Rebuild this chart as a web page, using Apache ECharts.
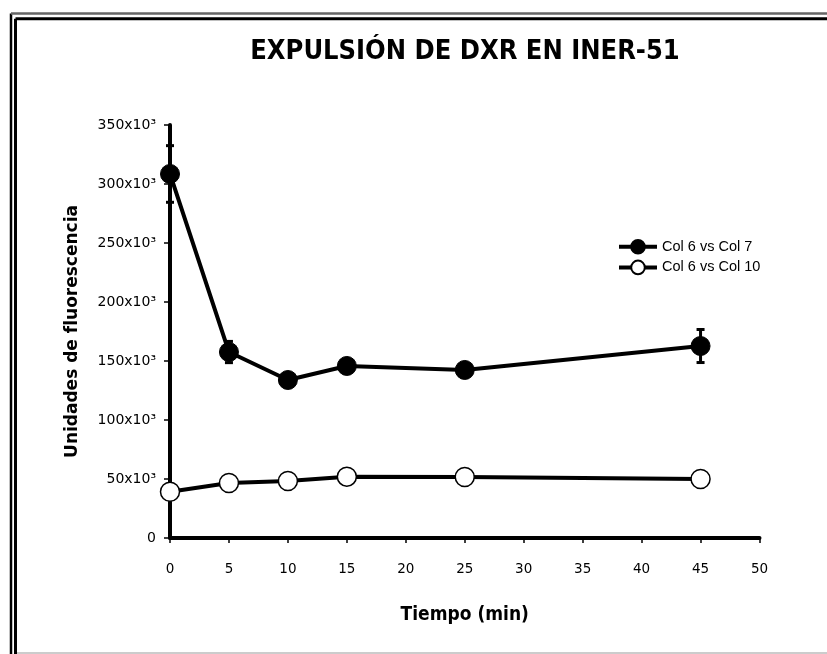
<!DOCTYPE html>
<html lang="es">
<head>
<meta charset="UTF-8">
<title>Expulsión de DXR en INER-51</title>
<script src="https://cdn.jsdelivr.net/npm/echarts@6/dist/echarts.min.js"></script>
<style>
  body { margin: 0; background: #fff; }
</style>
</head>
<body>
<div id="main" style="width: 827px;height:654px;"></div>
<script type="text/javascript">
// tiempos (min)
const tiempos = [0, 5, 10, 15, 25, 45];
// Col 6 vs Col 7 (media y error)
const col7 = [308500, 157600, 133900, 145800, 142400, 162700];
const col7Err = [24000, 9000, 0, 0, 0, 14000];
// Col 6 vs Col 10
const col10 = [39200, 46600, 48300, 52000, 51700, 50000];

const axisFont = 'Verdana, "DejaVu Sans", sans-serif';
const condFont = '"DejaVu Sans Condensed", "DejaVu Sans", sans-serif';

let myChart = echarts.init(document.getElementById('main'));

let options = {
  animation: false,
  backgroundColor: '#fff',
  title: {
    text: 'EXPULSIÓN DE DXR EN INER-51',
    left: 460,
    textAlign: 'center',
    top: 33,
    textStyle: { fontFamily: condFont, fontWeight: 'bold', fontSize: 27, color: '#000' }
  },
  legend: {
    orient: 'vertical',
    left: 612,
    top: 234,
    itemWidth: 38,
    itemHeight: 17,
    itemGap: 5,
    lineStyle: { width: 4 },
    textStyle: { fontFamily: '"Liberation Sans", Arial, sans-serif', fontSize: 14.5, color: '#000' },
    data: ['Col 6 vs Col 7', 'Col 6 vs Col 10']
  },
  grid: { left: 170, right: 67.5, top: 125, bottom: 116 },
  xAxis: {
    type: 'value',
    min: 0, max: 50, interval: 5,
    name: 'Tiempo (min)',
    nameLocation: 'middle',
    nameGap: 68,
    nameTextStyle: { fontFamily: condFont, fontWeight: 'bold', fontSize: 19, color: '#000' },
    axisLine: { onZero: false, lineStyle: { color: '#000', width: 4 } },
    axisTick: { lineStyle: { color: '#000', width: 1.5 }, length: 5 },
    axisLabel: { fontFamily: axisFont, fontSize: 13.5, color: '#000', margin: 24 },
    splitLine: { show: false }
  },
  yAxis: {
    type: 'value',
    min: 0, max: 350000, interval: 50000,
    name: 'Unidades de fluorescencia',
    nameLocation: 'middle',
    nameGap: 89,
    nameTextStyle: { fontFamily: axisFont, fontWeight: 'bold', fontSize: 17, color: '#000' },
    axisLine: { show: true, lineStyle: { color: '#000', width: 4 } },
    axisTick: { show: true, lineStyle: { color: '#000', width: 1.5 }, length: 6 },
    axisLabel: {
      fontFamily: axisFont, fontSize: 14, color: '#000', margin: 14,
      formatter: function (v) { return v === 0 ? '0' : (v / 1000) + 'x10³'; }
    },
    splitLine: { show: false }
  },
  series: [
    {
      name: 'Col 6 vs Col 7',
      type: 'line',
      data: tiempos.map((t, i) => [t, col7[i]]),
      symbol: 'circle',
      symbolSize: 19,
      lineStyle: { color: '#000', width: 4 },
      itemStyle: { color: '#000', borderColor: '#000', borderWidth: 1 },
      z: 3
    },
    {
      name: 'Col 6 vs Col 10',
      type: 'line',
      data: tiempos.map((t, i) => [t, col10[i]]),
      symbol: 'circle',
      symbolSize: 19,
      lineStyle: { color: '#000', width: 4 },
      itemStyle: { color: '#fff', borderColor: '#000', borderWidth: 1.5 },
      z: 3
    },
    {
      type: 'custom',
      name: 'err',
      data: tiempos.map((t, i) => [t, col7[i] - col7Err[i], col7[i] + col7Err[i]]).filter(d => d[2] > d[1]),
      renderItem: function (params, api) {
        const lo = api.coord([api.value(0), api.value(1)]);
        const hi = api.coord([api.value(0), api.value(2)]);
        const w = 4;
        const st = { stroke: '#000', lineWidth: 3 };
        return {
          type: 'group',
          children: [
            { type: 'line', shape: { x1: lo[0], y1: lo[1], x2: hi[0], y2: hi[1] }, style: st },
            { type: 'line', shape: { x1: lo[0] - w, y1: lo[1], x2: lo[0] + w, y2: lo[1] }, style: st },
            { type: 'line', shape: { x1: hi[0] - w, y1: hi[1], x2: hi[0] + w, y2: hi[1] }, style: st }
          ]
        };
      },
      z: 2
    }
  ],
  graphic: [
    { type: 'line', shape: { x1: 11, y1: 13.5, x2: 11, y2: 654 }, style: { stroke: '#000', lineWidth: 2.5 } },
    { type: 'line', shape: { x1: 11, y1: 13.5, x2: 827, y2: 13.5 }, style: { stroke: '#666', lineWidth: 2.5 } },
    { type: 'line', shape: { x1: 15.5, y1: 18.7, x2: 15.5, y2: 654 }, style: { stroke: '#000', lineWidth: 3 } },
    { type: 'line', shape: { x1: 15.5, y1: 18.7, x2: 827, y2: 18.7 }, style: { stroke: '#000', lineWidth: 3 } },
    { type: 'line', shape: { x1: 17, y1: 653, x2: 827, y2: 653 }, style: { stroke: '#ccc', lineWidth: 2 } }
  ]
};

myChart.setOption(options);
</script>
</body>
</html>
